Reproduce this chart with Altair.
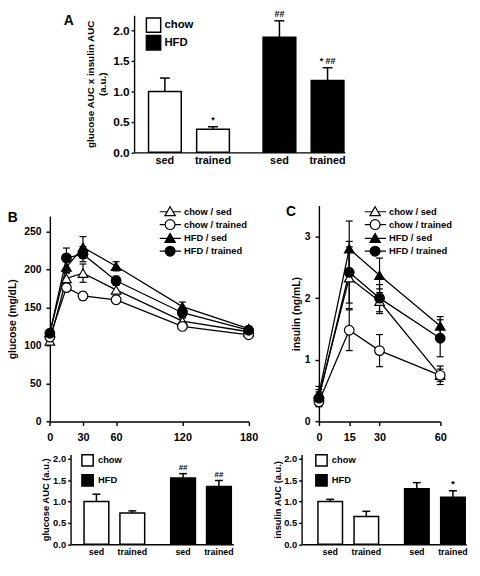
import altair as alt
import pandas as pd

# ---------------- data ----------------
bar_groups = ["chow", "chow", "HFD", "HFD"]
bar_training = ["sed", "trained", "sed", "trained"]
legend_groups = ["chow", "HFD"]
legend_colors = ["white", "black"]

# Panel A: glucose AUC x insulin AUC
a_mean = [1.00, 0.38, 1.89, 1.18]
a_upper = [1.22, 0.42, 2.16, 1.39]
a_sig = ["", "*", "##", "* ##"]

# Panel B (bottom): glucose AUC
gauc_mean = [1.00, 0.73, 1.55, 1.35]
gauc_upper = [1.17, 0.78, 1.65, 1.49]
gauc_sig = ["", "", "##", "##"]

# Panel C (bottom): insulin AUC
iauc_mean = [1.00, 0.65, 1.30, 1.10]
iauc_upper = [1.05, 0.77, 1.44, 1.25]
iauc_sig = ["", "", "", "*"]

series_names = ["chow / sed", "chow / trained", "HFD / sed", "HFD / trained"]

# Panel B: glucose (mg/dL) over time (min)
glu_time = [0, 15, 30, 60, 120, 180]
glu_chow_sed = [106, 188, 195, 173, 132, 118]
glu_chow_trained = [111, 176, 165, 160, 125, 114]
glu_hfd_sed = [117, 203, 229, 204, 151, 122]
glu_hfd_trained = [116, 215, 220, 185, 143, 120]
glu_err_chow_sed = [3, 8, 12, 8, 5, 3]
glu_err_chow_trained = [3, 5, 5, 5, 4, 3]
glu_err_hfd_sed = [3, 8, 14, 6, 6, 3]
glu_err_hfd_trained = [3, 13, 10, 6, 7, 3]

# Panel C: insulin (ng/mL) over time (min)
ins_time = [0, 15, 30, 60]
ins_chow_sed = [0.42, 2.33, 1.95, 0.75]
ins_chow_trained = [0.32, 1.48, 1.15, 0.75]
ins_hfd_sed = [0.45, 2.80, 2.37, 1.55]
ins_hfd_trained = [0.38, 2.42, 2.00, 1.35]
ins_err_chow_sed = [0.10, 0.50, 0.20, 0.15]
ins_err_chow_trained = [0.08, 0.33, 0.26, 0.10]
ins_err_hfd_sed = [0.12, 0.45, 0.28, 0.15]
ins_err_hfd_trained = [0.10, 0.50, 0.22, 0.30]

panel_letters = ["A", "B", "C"]

# ---------------- layout helpers ----------------
FONT = "Liberation Sans"
W, H = 470, 556
SX, SY, X0, Y0 = 0.975, 0.9636, 3, 2


def cx(r):
    return round((r - X0) * SX, 2)


def cy(r):
    return round((r - Y0) * SY, 2)


def band_params(r0, r1, L1, L2, Bw):
    step = L2 - L1
    pi = 1 - Bw / step
    outer = (r1 - r0) - step * (2 - pi)
    po = outer / (2 * step)
    align = (L1 - r0) / outer
    return pi, po, align


def bar_panel(mean, upper, sig, ymax, axis_x, base_y, top_y, r1, L1, L2, Bw, inner_pi,
              ytitle, title_pad, tick_fs, title_fs, lab_fs, lab_dy, cap, sig_fs,
              leg_x, leg_y, leg_gap, leg_size, leg_fs, leg_off, tick_size):
    df = pd.DataFrame({"group": bar_groups, "training": bar_training,
                       "mean": mean, "upper": upper, "sig": sig})
    pi, po, align = band_params(axis_x, r1, L1, L2, Bw)
    xs = alt.Scale(domain=["chow", "HFD"], range=[cx(axis_x), cx(r1)],
                   paddingInner=pi, paddingOuter=po, align=align)
    xax = alt.Axis(orient="bottom", offset=cy(base_y) - H, labels=False,
                   ticks=False, title=None)
    X = alt.X("group:N", scale=xs, axis=xax)
    XO = alt.XOffset("training:N", scale=alt.Scale(domain=["sed", "trained"],
                                                   paddingInner=inner_pi, paddingOuter=0))
    ys = alt.Scale(domain=[0, ymax], range=[cy(base_y), cy(top_y)], nice=False, zero=True)
    yax = alt.Axis(orient="left", offset=-cx(axis_x), values=[0, 0.5, 1, 1.5, 2],
                   format=".1f", title=ytitle, titlePadding=title_pad,
                   labelFontSize=tick_fs, titleFontSize=title_fs, tickSize=tick_size,
                   labelPadding=2)

    def Y(f):
        return alt.Y(f, type="quantitative", scale=ys, axis=yax)

    base = alt.Chart(df)
    bars = base.mark_bar(stroke="black", strokeWidth=1.5).encode(
        x=X, xOffset=XO, y=Y("mean"),
        fill=alt.Fill("group:N", scale=alt.Scale(domain=legend_groups, range=legend_colors),
                      legend=None))
    err = base.mark_rule(color="black", strokeWidth=1.5).encode(
        x=X, xOffset=XO, y=Y("mean"), y2="upper:Q")
    caps = base.mark_point(shape="stroke", size=cap ** 2, filled=False, stroke="black",
                           strokeWidth=1.5, opacity=1).encode(x=X, xOffset=XO, y=Y("upper"))
    sigs = base.mark_text(font=FONT, fontWeight="bold", fontSize=sig_fs, baseline="bottom",
                          dy=-2, color="black").encode(x=X, xOffset=XO, y=Y("upper"), text="sig:N")
    labs = base.mark_text(font=FONT, fontWeight="bold", fontSize=lab_fs, baseline="top",
                          dy=lab_dy, color="black").encode(
        x=X, xOffset=XO, y=alt.YDatum(0, type="quantitative", scale=ys, axis=yax),
        text="training:N")
    # one single-entry legend per group, so the two rows can be spaced as in the figure
    legs = []
    for i, (g, c) in enumerate(zip(legend_groups, legend_colors)):
        legs.append(base.transform_filter("false").mark_bar(stroke="black", strokeWidth=1.5).encode(
            fill=alt.Fill("group:N", scale=alt.Scale(domain=[g], range=[c]),
                          legend=alt.Legend(orient="none", legendX=cx(leg_x),
                                            legendY=round(cy(leg_y) + i * leg_gap * SY, 2),
                                            title=None, symbolType="square", symbolSize=leg_size,
                                            symbolStrokeColor="black", symbolStrokeWidth=1.5,
                                            symbolOpacity=1, labelFont=FONT, labelFontSize=leg_fs,
                                            labelFontWeight="bold", labelColor="black",
                                            labelOffset=leg_off, padding=0))))
    return alt.layer(bars, err, caps, sigs, labs, *legs).resolve_scale(
        fill="independent").resolve_legend(fill="independent")


TRI_PATH = "M-2.1,0H-0.58M0.58,0H2.2M0,-1L1.05,0.8L-1.05,0.8Z"
CIRC_PATH = "M-2.1,0H-1M1,0H2.2M-1,0A1,1,0,1,0,1,0A1,1,0,1,0,-1,0Z"


def long_df(times, means, errs):
    rows = []
    for s, m, e in zip(series_names, means, errs):
        for t, v, d in zip(times, m, e):
            rows.append({"series": s, "time": t, "value": v, "lo": v - d, "hi": v + d})
    return pd.DataFrame(rows)


def line_panel(times, means, errs, xmax, xticks, x0ref, x1ref, ymax, yticks, ybot, ytop,
               ytitle, title_pad, mx, my):
    df = long_df(times, means, errs)
    X = alt.X("time:Q",
              scale=alt.Scale(domain=[0, xmax], range=[cx(x0ref), cx(x1ref)], nice=False, zero=False),
              axis=alt.Axis(orient="bottom", offset=cy(ybot) - H, values=xticks, title=None,
                            labelFontSize=11, labelPadding=6, tickSize=4, labelFlush=False,
                            labelOverlap=False, format="d"))
    ys = alt.Scale(domain=[0, ymax], range=[cy(ybot), cy(ytop)], nice=False, zero=True)
    yax = alt.Axis(orient="left", offset=-cx(x0ref), values=yticks, title=ytitle,
                   titlePadding=title_pad, labelFontSize=10.5, titleFontSize=10.5, tickSize=4,
                   labelPadding=5, format="d", labelOverlap=False)

    def Y(f):
        return alt.Y(f, type="quantitative", scale=ys, axis=yax)

    base = alt.Chart(df)
    lines = base.mark_line(color="black", strokeWidth=1.3).encode(
        x=X, y=Y("value"), detail="series:N")
    err = base.mark_rule(color="black", strokeWidth=1.2).encode(x=X, y=Y("lo"), y2="hi:Q")
    cap_lo = base.mark_point(shape="stroke", size=49, filled=False, stroke="black",
                             strokeWidth=1.2, opacity=1).encode(x=X, y=Y("lo"))
    cap_hi = base.mark_point(shape="stroke", size=49, filled=False, stroke="black",
                             strokeWidth=1.2, opacity=1).encode(x=X, y=Y("hi"))
    pts = base.mark_point(filled=True, stroke="black", strokeWidth=1.2, size=95, opacity=1).encode(
        x=X, y=Y("value"),
        shape=alt.Shape("series:N", scale=alt.Scale(domain=series_names,
                        range=["triangle-up", "circle", "triangle-up", "circle"]), legend=None),
        fill=alt.Fill("series:N", scale=alt.Scale(domain=series_names,
                      range=["white", "white", "black", "black"]), legend=None))
    leg_props = dict(orient="none", legendX=cx(mx) - 5.6, legendY=cy(my) - 5.6, title=None,
                     symbolStrokeWidth=1.2, symbolOpacity=1,
                     symbolSize=100, labelFont=FONT, labelFontSize=9.5, labelFontWeight="bold",
                     labelColor="black", rowPadding=-4.3, labelOffset=8, padding=0)
    leg = base.transform_filter("false").mark_point(
        filled=True, strokeWidth=1.2, size=100, opacity=1).encode(
        shape=alt.Shape("series:N", scale=alt.Scale(domain=series_names,
                        range=[TRI_PATH, CIRC_PATH, TRI_PATH, CIRC_PATH]),
                        legend=alt.Legend(**leg_props)),
        fill=alt.Fill("series:N", scale=alt.Scale(domain=series_names,
                      range=["white", "white", "black", "black"]),
                      legend=alt.Legend(**leg_props)),
        stroke=alt.Stroke("series:N", scale=alt.Scale(domain=series_names,
                          range=["black", "black", "black", "black"]),
                          legend=alt.Legend(**leg_props)))
    return alt.layer(lines, err, cap_lo, cap_hi, pts, leg).resolve_scale(
        shape="independent", fill="independent", stroke="independent")


panel_a = bar_panel(a_mean, a_upper, a_sig, 2.25, 134, 150, 6, 353, 149, 268, 84, 0.32,
                    ["glucose AUC x insulin AUC", "(a.u.)"], 5, 12, 10, 11, 3, 10, 9,
                    146, 8, 18.5, 210, 11.5, 3, 3)
bar_b = bar_panel(gauc_mean, gauc_upper, gauc_sig, 2.1, 68, 562, 467.5, 237, 82, 172, 63, 0.31,
                  "glucose AUC (a.u.)", 2.5, 9.5, 9.5, 9, 4, 8, 8,
                  79, 467, 21, 130, 9.5, 4, 3)
bar_c = bar_panel(iauc_mean, iauc_upper, iauc_sig, 2.1, 308, 562, 467.5, 479, 325, 415, 63, 0.32,
                  "insulin AUC (a.u.)", 1, 9.5, 9.5, 9, 4, 8, 10,
                  322, 467, 21, 130, 9.5, 4, 3)

line_b = line_panel(glu_time,
                    [glu_chow_sed, glu_chow_trained, glu_hfd_sed, glu_hfd_trained],
                    [glu_err_chow_sed, glu_err_chow_trained, glu_err_hfd_sed, glu_err_hfd_trained],
                    180, [0, 30, 60, 120, 180], 46.5, 253, 270, [0, 50, 100, 150, 200, 250],
                    433, 217, "glucose (mg/dL)", 6, 171, 212)
line_c = line_panel(ins_time,
                    [ins_chow_sed, ins_chow_trained, ins_hfd_sed, ins_hfd_trained],
                    [ins_err_chow_sed, ins_err_chow_trained, ins_err_hfd_sed, ins_err_hfd_trained],
                    60, [0, 15, 30, 60], 326, 452, 3.5, [0, 1, 2, 3],
                    433, 206, "insulin (ng/mL)", 2.5, 384, 212)

letter_pos = {"A": (66, 12), "B": (8, 219), "C": (297, 213)}
letters = [
    alt.Chart(pd.DataFrame({"label": [t]})).mark_text(
        font=FONT, fontWeight="bold", fontSize=14, color="black",
        align="center", baseline="middle").encode(
        x=alt.value(cx(letter_pos[t][0])), y=alt.value(cy(letter_pos[t][1])), text="label:N")
    for t in panel_letters
]

chart = alt.layer(panel_a, line_b, line_c, bar_b, bar_c, *letters).resolve_scale(
    x="independent", y="independent", xOffset="independent",
    fill="independent", shape="independent", stroke="independent"
).resolve_axis(x="independent", y="independent").resolve_legend(
    fill="independent", shape="independent", stroke="independent"
).properties(
    width=W, height=H, padding=0, autosize=alt.AutoSizeParams(type="none")
).configure_view(stroke=None).configure_axis(
    grid=False, domainColor="black", tickColor="black", labelColor="black",
    titleColor="black", labelFont=FONT, titleFont=FONT, labelFontWeight="bold",
    titleFontWeight="bold", domainWidth=1.4, tickWidth=1.4
)

chart.save("out.html", embed_options={"renderer": "svg", "actions": False})
